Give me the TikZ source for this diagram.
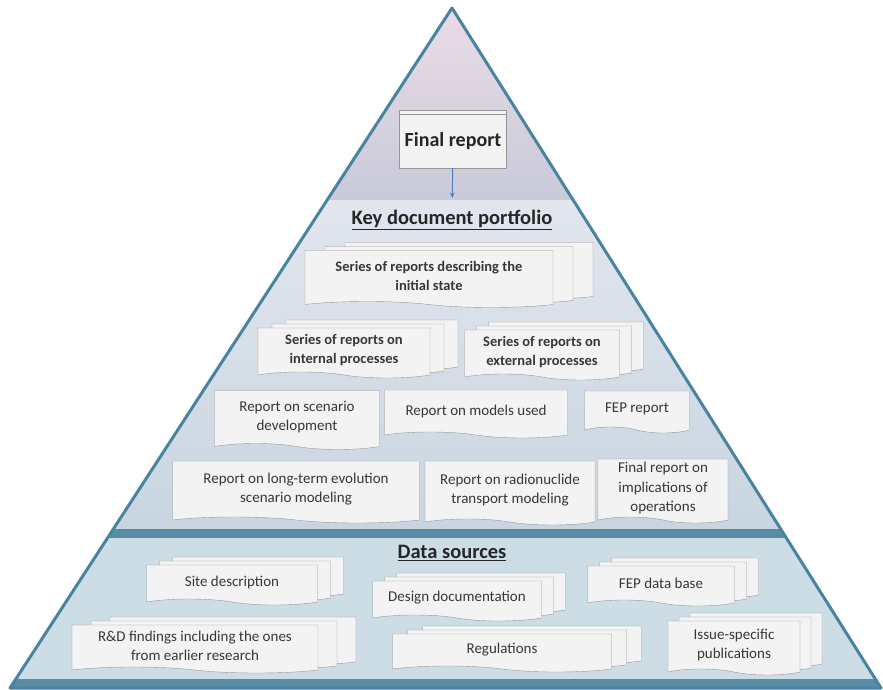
\documentclass[tikz,border=0pt]{standalone}
\usepackage{fontspec}
\setmainfont{Carlito}
\usepackage{tikz}
\usetikzlibrary{shapes.symbols, shadows, arrows.meta, positioning, calc}

\definecolor{pyrline}{RGB}{72,132,162}
\definecolor{pyrband}{RGB}{88,140,165}
\definecolor{toptop}{RGB}{236,220,230}
\definecolor{topbot}{RGB}{200,202,218}
\definecolor{midtop}{RGB}{226,230,238}
\definecolor{midbot}{RGB}{200,213,224}
\definecolor{datafill}{RGB}{204,221,230}
\definecolor{docfill}{RGB}{243,243,243}
\definecolor{docline}{RGB}{150,150,150}
\definecolor{doctext}{RGB}{55,55,55}
\definecolor{arrowblue}{RGB}{79,129,189}

\begin{document}
\begin{tikzpicture}[x=1pt, y=-1pt,
        doc/.style 2 args={tape, tape bend top=none, tape bend bottom=out and in, tape bend height=6pt,
            draw=docline, fill=docfill, minimum width=#1pt, minimum height=#2pt, inner sep=1pt,
            align=center, text=doctext, font=\fontsize{15}{19.5}\selectfont},
        bolddoc/.style={font=\fontsize{14.5}{19.5}\selectfont\bfseries},
        stack/.style={copy shadow={shadow xshift=2*#1pt, shadow yshift=8pt, draw=docline, fill=docfill},
            copy shadow={shadow xshift=#1pt, shadow yshift=4pt, draw=docline, fill=docfill}},
        stack/.default=14,
        heading/.style={font=\fontsize{20.5}{22}\selectfont\bfseries, text=black!85},
        arrow/.style={-{Stealth[length=5pt, width=5pt]}, draw=arrowblue, line width=1pt}
    ]
        \useasboundingbox (0,0) rectangle (883,690);

        \coordinate (apex) at (452,8);
        \coordinate (bl) at (10,688);
        \coordinate (br) at (881,688);

        \begin{scope}
            \clip (apex) -- (bl) -- (br) -- cycle;
            \shade[top color=toptop, bottom color=topbot] (0,0) rectangle (883,200);
            \shade[top color=midtop, bottom color=midbot] (0,200) rectangle (883,531);
            \fill[datafill] (0,531) rectangle (883,690);
            \fill[pyrband] (0,529) rectangle (883,538);
            \fill[pyrband] (0,679) rectangle (883,690);
        \end{scope}
        \draw[pyrline, line width=3pt, line join=round] (apex) -- (bl) -- (br) -- cycle;

        \node[draw=docline, fill=docfill, minimum width=107pt, minimum height=54pt,
            copy shadow={shadow xshift=0pt, shadow yshift=4pt, draw=docline, fill=docfill},
            font=\fontsize{20}{22}\selectfont\bfseries, text=black!85] (final) at (453,141) {Final report};
        \node[heading] (kdp) at (452,220) {\underline{Key document portfolio}};
        \draw[arrow, shorten >=9pt] (final) -- (kdp);

        \node[doc={248}{57}, stack=20, bolddoc] (init) at (429,276) {Series of reports describing the\\initial state};
        \node[doc={172}{50}, stack, bolddoc] (internal) at (344,350) {Series of reports on\\internal processes};
        \node[doc={155}{50}, stack=12, bolddoc] (external) at (542,352) {Series of reports on\\external processes};

        \node[doc={165}{59}] (scenario) at (297,417) {Report on scenario\\development};
        \node[doc={183}{48}] (models) at (476,411) {Report on models used};
        \node[doc={105}{42}] (fep) at (637,409) {FEP report};

        \node[doc={247}{62}] (longterm) at (296,489) {Report on long-term evolution\\scenario modeling};
        \node[doc={170}{64}] (radio) at (510,490) {Report on radionuclide\\transport modeling};
        \node[doc={130}{64}] (implic) at (663,488) {Final report on\\implications of\\operations};

        \node[heading] (data) at (452,553) {\underline{Data sources}};

        \node[doc={171}{40}, stack=13] (site) at (232,582) {Site description};
        \node[doc={169}{40}, stack=12] (design) at (457,598) {Design documentation};
        \node[doc={147}{40}, stack=12] (fepdb) at (661,583) {FEP data base};
        \node[doc={246}{48}, stack=19] (rnd) at (195,646) {R\&D findings including the ones\\from earlier research};
        \node[doc={219}{38}, stack=15] (regs) at (502,650) {Regulations};
        \node[doc={132}{54}, stack=11] (issue) at (734,645) {Issue-specific\\publications};

    \end{tikzpicture}
\end{document}
